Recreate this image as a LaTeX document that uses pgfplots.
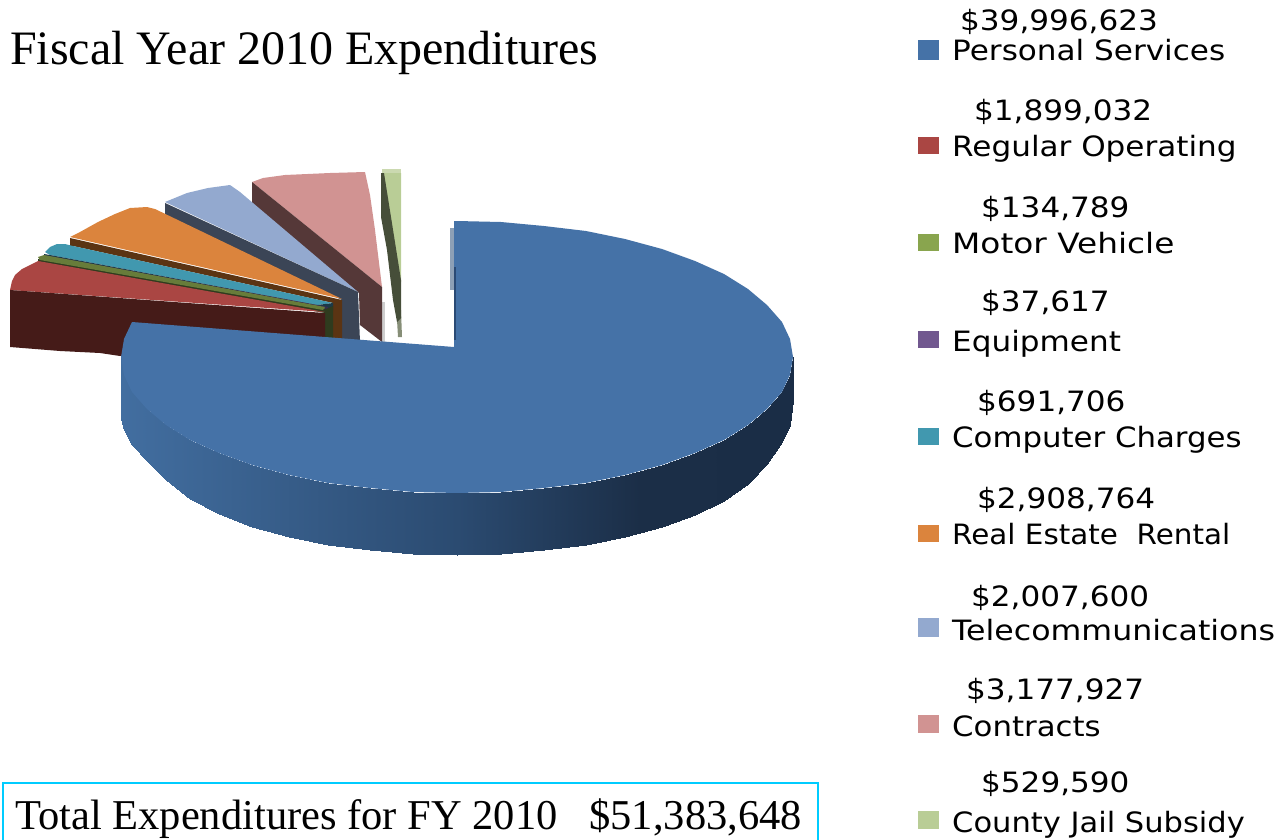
\documentclass[border=0pt]{standalone}
\usepackage{pgfplots}
\pgfplotsset{compat=1.18}
\usepackage{fontspec}
\setmainfont{Liberation Serif}
\newfontfamily\lgd{DejaVu Sans}
\definecolor{cBlue}{HTML}{4572A7}
\definecolor{cRed}{HTML}{AA4643}
\definecolor{cGreen}{HTML}{89A54E}
\definecolor{cPurple}{HTML}{71588F}
\definecolor{cTeal}{HTML}{4198AF}
\definecolor{cOrange}{HTML}{DB843D}
\definecolor{cTele}{HTML}{93A9CF}
\definecolor{cContr}{HTML}{D19392}
\definecolor{cCounty}{HTML}{B9CD96}
\newcommand{\val}[4][1.11]{\node[anchor=base west,inner sep=0pt,font=\lgd\fontsize{28}{30}\selectfont] at (axis cs:#2,#3) {\scalebox{#1}[1]{#4}};}
\begin{document}
\begin{tikzpicture}
\useasboundingbox (0,0) rectangle (1287pt,840pt);
\begin{axis}[at={(0,0)},anchor=south west,scale only axis,width=1287pt,height=840pt,
  xmin=0,xmax=1287,ymin=0,ymax=840,y dir=reverse,hide axis,clip=false,
  colormap={rim}{rgb255(0)=(66,110,160) rgb255(336)=(43,75,113) rgb255(519)=(27,46,71) rgb255(672)=(26,45,70)}]
% County Jail Subsidy
\addplot[fill=cCounty!75!white,draw=none] coordinates {(382,169)(401,169)(401,176)(382,176)} --cycle;
\addplot[fill=cCounty,draw=none] coordinates {(382,173)(401,173)(401,282)} --cycle;
\addplot[fill=black!25!cCounty!55!gray,draw=none] coordinates {(397,320)(401,310)(402,337)(398,337)} --cycle;
\addplot[fill=black!62!cCounty,draw=none] coordinates {(381,173)(384,173)(401,280)(401,318)(397,322)(393,300)(387,250)(381,217)} --cycle;
% Contracts
\addplot[fill=black!38,opacity=0.5,draw=none] coordinates {(382,302)(385,302)(385,342)(382,342)} --cycle;
\addplot[fill=cContr,draw=none] coordinates {(252,182)(263,178)(285,175)(330,173)(365,172)(370,195)(375,230)(382,287)} --cycle;
\addplot[fill={rgb,255:red,85;green,56;blue,56},draw=none] coordinates {(252,182)(382,287)(382,342)(360,325)(359,293)(252,205)} --cycle;
% Telecommunications
\addplot[fill=cTele,draw=none] coordinates {(165,202)(187,193)(208,188)(230,185)(240,192)(358,292)} --cycle;
\addplot[fill={rgb,255:red,59;green,69;blue,86},draw=none] coordinates {(165,203)(358,292)(360,342)(342,342)(342,300)(167,217)(165,217)} --cycle;
% Real Estate Rental
\addplot[fill=cOrange,draw=none] coordinates {(70,237)(80,232)(98,222)(115,214)(130,208)(147,207)(155,209)(342,299)} --cycle;
\addplot[fill={rgb,255:red,91;green,52;blue,19},draw=none] coordinates {(70,238)(342,300)(342,340)(333,340)(333,303)(73,246)(70,246)} --cycle;
% Computer Charges
\addplot[fill=cTeal,draw=none] coordinates {(45,252)(50,247)(57,244)(65,244)(73,246)(333,303)(317,305)(50,255)} --cycle;
\addplot[fill={rgb,255:red,27;green,58;blue,72},draw=none] coordinates {(44,254)(50,255)(317,305)(333,303)(333,310)(320,308)(44,256)} --cycle;
% Equipment
\addplot[fill={rgb,255:red,60;green,45;blue,80},draw=none] coordinates {(44,255)(328,307)(328,309)(44,257)} --cycle;
% Motor Vehicle
\addplot[fill={rgb,255:red,47;green,59;blue,30},draw=none] coordinates {(38,259)(326,309)(333,306)(333,340)(325,340)(325,313)(38,263)} --cycle;
\addplot[fill=cGreen!75!black,draw=none] coordinates {(38,257)(44,255)(325,307)(323,310)(40,260)} --cycle;
% Regular Operating
\addplot[fill=cRed,draw=none] coordinates {(10,290)(12,281)(15,275)(22,269)(30,265)(38,261)(325,312)} --cycle;
\addplot[fill={rgb,255:red,69;green,27;blue,24},draw=none] coordinates {(10,290)(325,313)(325,340)(120,356)(100,353)(60,351)(10,347)} --cycle;
% Personal Services: rim, shaded along x
\addplot[patch,patch type=rectangle,shader=interp,point meta=x,point meta min=121,point meta max=793] coordinates {
(121,357)(124,375)(124,430)(121,419)
(124,375)(132,392)(132,445)(124,430)
(132,392)(147,409)(147,461)(132,445)
(147,409)(166,425)(166,480)(147,461)
(166,425)(190,440)(190,499)(166,480)
(190,440)(219,453)(219,514)(190,499)
(219,453)(252,465)(252,527)(219,514)
(252,465)(289,475)(289,537)(252,527)
(289,475)(328,483)(328,545)(289,537)
(328,483)(370,488)(370,550)(328,545)
(370,488)(413,492)(413,554)(370,550)
(413,492)(457,493)(457,555)(413,554)
(457,493)(501,492)(501,554)(457,555)
(501,492)(544,488)(544,550)(501,554)
(544,488)(586,483)(586,545)(544,550)
(586,483)(625,475)(625,537)(586,545)
(625,475)(662,465)(662,527)(625,537)
(662,465)(695,453)(695,515)(662,527)
(695,453)(724,440)(724,501)(695,515)
(724,440)(748,425)(748,484)(724,501)
(748,425)(767,409)(767,464)(748,484)
(767,409)(782,392)(782,442)(767,464)
(782,392)(790,375)(790,425)(782,442)
(790,375)(793,357)(793,400)(790,425)
};
% Personal Services: top face
\addplot[fill=cBlue,draw=none] coordinates {
 (454,347)(454,221)(457,221)(501,222)(544,226)(586,231)(625,239)(662,249)(695,261)(724,274)(748,289)(767,305)(782,322)(790,339)(793,357)
 (790,375)(782,392)(767,409)(748,425)(724,440)(695,453)(662,465)(625,475)(586,483)(544,488)(501,492)(457,493)
 (413,492)(370,488)(328,483)(289,475)(252,465)(219,453)(190,440)(166,425)(147,409)(132,392)(124,375)(121,357)(124,339)(132,322)} --cycle;
\addplot[fill=cBlue!60!gray!70!white,draw=none] coordinates {(450,228)(454,228)(454,290)(450,290)} --cycle;
\addplot[fill={rgb,255:red,42;green,74;blue,117},draw=none] coordinates {(454,267)(456,267)(456,340)(454,340)} --cycle;
% legend swatches
\addplot[fill=cBlue,draw=none] coordinates {(918,40)(939,40)(939,60)(918,60)} --cycle;
\addplot[fill=cRed,draw=none] coordinates {(918,137)(939,137)(939,154)(918,154)} --cycle;
\addplot[fill=cGreen,draw=none] coordinates {(918,234)(939,234)(939,251)(918,251)} --cycle;
\addplot[fill=cPurple,draw=none] coordinates {(918,331)(939,331)(939,348)(918,348)} --cycle;
\addplot[fill=cTeal,draw=none] coordinates {(918,428)(939,428)(939,445)(918,445)} --cycle;
\addplot[fill=cOrange,draw=none] coordinates {(918,525)(939,525)(939,542)(918,542)} --cycle;
\addplot[fill=cTele,draw=none] coordinates {(918,618)(939,618)(939,637)(918,637)} --cycle;
\addplot[fill=cContr,draw=none] coordinates {(918,715)(939,715)(939,733)(918,733)} --cycle;
\addplot[fill=cCounty,draw=none] coordinates {(918,811)(939,811)(939,829)(918,829)} --cycle;
% total box
\addplot[draw={rgb,255:red,0;green,204;blue,255},line width=1.6pt] coordinates {(3,840)(3,783)(818,783)(818,840)};
\val{960}{31}{\$39,996,623}
\val{952}{61}{Personal Services}
\val{974}{121}{\$1,899,032}
\val{952}{157}{Regular Operating}
\val{981}{217}{\$134,789}
\val[1.17]{952}{253}{Motor Vehicle}
\val{981}{311}{\$37,617}
\val{952}{351}{Equipment}
\val{977}{411}{\$691,706}
\val[1.10]{952}{447}{Computer Charges}
\val{977}{508}{\$2,908,764}
\val[1.05]{952}{544}{Real Estate\ \ Rental}
\val{971}{606}{\$2,007,600}
\val[1.13]{952}{640}{Telecommunications}
\val{966}{699}{\$3,177,927}
\val[1.10]{952}{736}{Contracts}
\val{981}{792}{\$529,590}
\val[1.09]{952}{832}{County Jail Subsidy}
\node[anchor=base west,inner sep=0pt,font=\fontsize{48}{50}\selectfont] at (axis cs:10,65) {Fiscal Year 2010 Expenditures};
\node[anchor=base west,inner sep=0pt,font=\fontsize{42.5}{45}\selectfont] at (axis cs:15,829) {Total Expenditures for FY 2010\ \ \ \$51,383,648};
\end{axis}
\end{tikzpicture}
\end{document}
